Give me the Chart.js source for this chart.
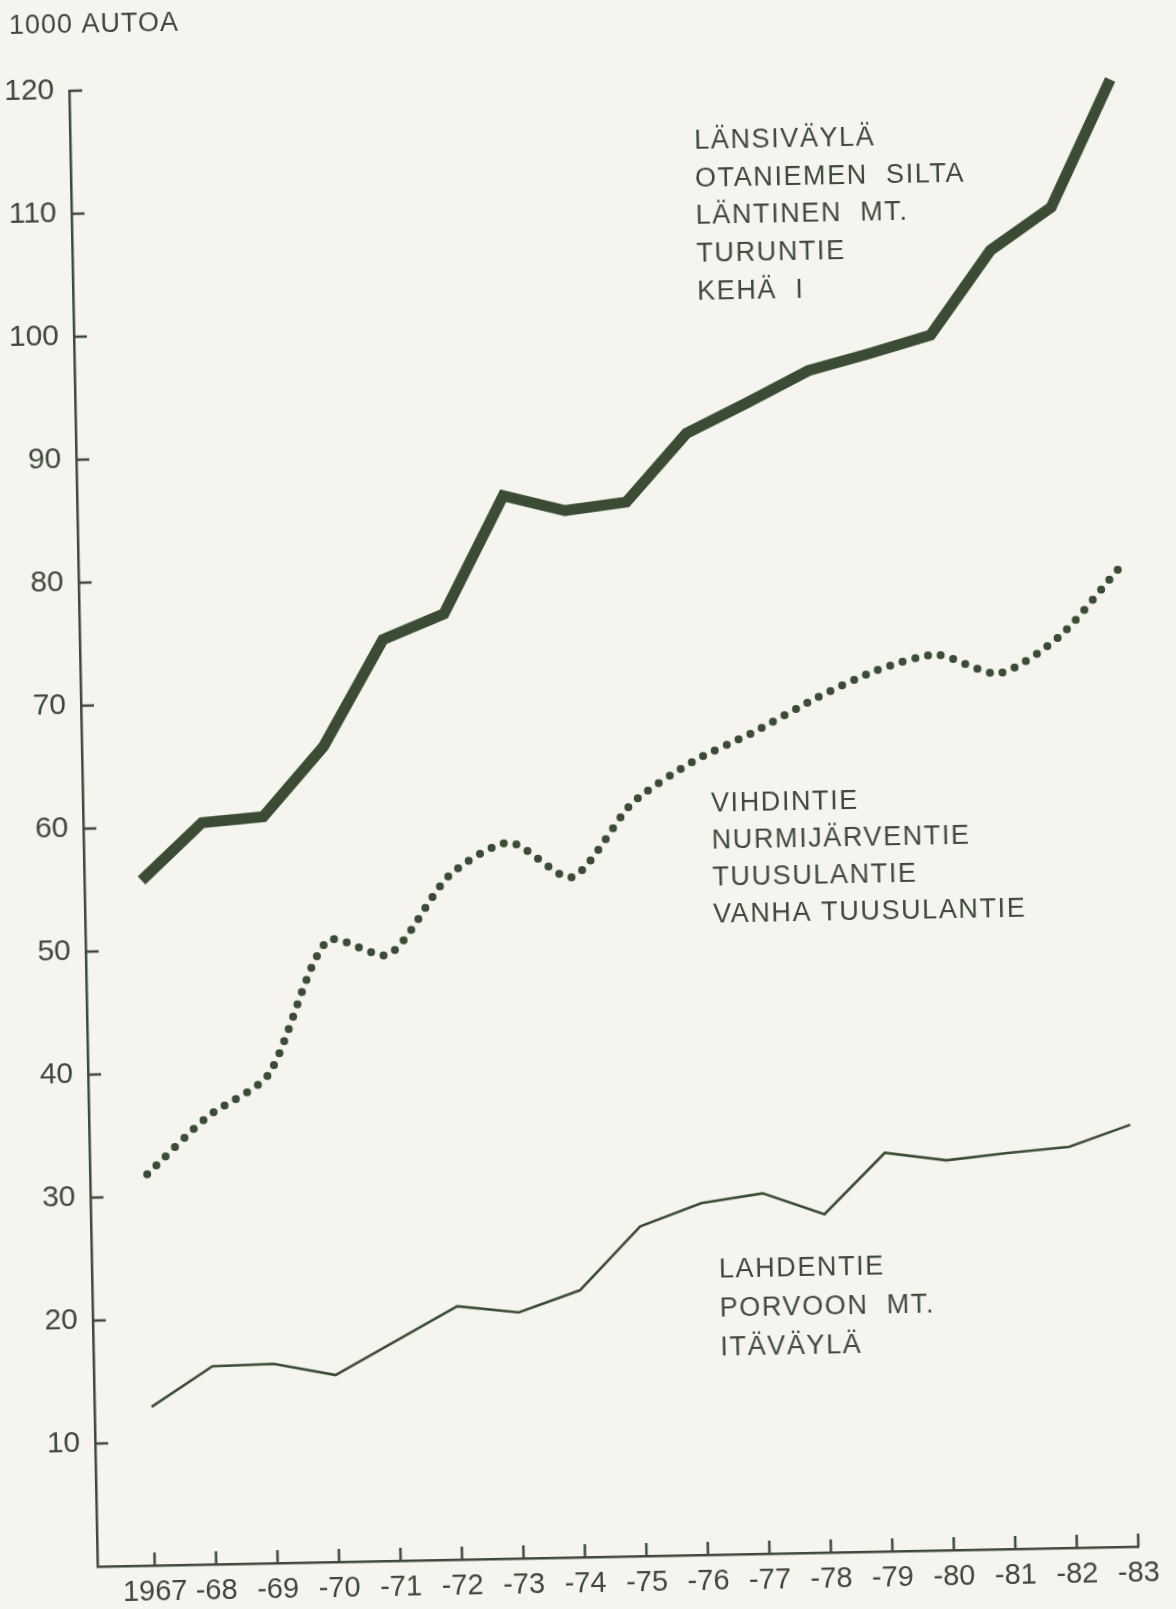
<!DOCTYPE html>
<html>
<head>
<meta charset="utf-8">
<script src="https://cdn.jsdelivr.net/npm/chart.js@4.4.1/dist/chart.umd.min.js"></script>
<style>
  html, body { margin: 0; padding: 0; width: 1176px; height: 1609px; overflow: hidden; background: #f5f4ee; }
  #wrap { position: absolute; left: 0; top: 0; width: 1176px; height: 1609px;
          transform: rotate(-1.1deg); transform-origin: 588px 804.5px; }
  canvas { display: block; }
</style>
</head>
<body>
<div id="wrap"><canvas id="c" width="1176" height="1609"></canvas></div>
<script>
// ---- data (thousand vehicles per day) ----
const years = [1967, 1968, 1969, 1970, 1971, 1972, 1973, 1974, 1975, 1976, 1977, 1978, 1979, 1980, 1981, 1982, 1983];
const xTickLabels = ['1967', '-68', '-69', '-70', '-71', '-72', '-73', '-74', '-75', '-76', '-77', '-78', '-79', '-80', '-81', '-82', '-83'];
const yTickValues = [10, 20, 30, 40, 50, 60, 70, 80, 90, 100, 110, 120];
const yAxisTitle = '1000 AUTOA';

// Länsiväylä, Otaniemen silta, Läntinen mt., Turuntie, Kehä I (thick line)
const westRoutes = [55.7, 60.3, 60.7, 66.3, 74.9, 76.9, 86.4, 85.1, 85.7, 91.2, 93.6, 96.1, 97.4, 98.8, 105.6, 109.0, 119.3];
// Vihdintie, Nurmijärventie, Tuusulantie, Vanha Tuusulantie (dotted line)
const northRoutes = [31.8, 36.4, 39.7, 50.5, 49.3, 55.6, 58.2, 55.3, 61.2, 64.5, 66.8, 69.4, 71.6, 72.8, 71.2, 74.1, 79.6];
// Lahdentie, Porvoon mt., Itäväylä (thin line)
const eastRoutes = [12.9, 16.1, 16.2, 15.2, 17.9, 20.6, 20.0, 21.7, 26.8, 28.6, 29.3, 27.5, 32.4, 31.7, 32.2, 32.6, 34.3];

const westLabel = ['LÄNSIVÄYLÄ', 'OTANIEMEN  SILTA', 'LÄNTINEN  MT.', 'TURUNTIE', 'KEHÄ  I'];
const northLabel = ['VIHDINTIE', 'NURMIJÄRVENTIE', 'TUUSULANTIE', 'VANHA TUUSULANTIE'];
const eastLabel = ['LAHDENTIE', 'PORVOON  MT.', 'ITÄVÄYLÄ'];

// ---- styling ----
const INK = '#3e493b';
const LINE = '#3a4c34';
const FONT = '"Liberation Sans", Arial, sans-serif';

const toPoints = arr => years.map((yr, i) => ({ x: yr, y: arr[i] }));

const inwardTicks = {
  id: 'inwardTicks',
  afterDatasetsDraw(chart) {
    const { ctx, chartArea: a, scales: { x, y } } = chart;
    ctx.save();
    ctx.strokeStyle = INK;
    ctx.lineWidth = 2.5;
    ctx.beginPath();
    yTickValues.forEach(v => {
      const py = y.getPixelForValue(v);
      ctx.moveTo(a.left, py); ctx.lineTo(a.left + 13, py);
    });
    years.forEach(v => {
      const px = x.getPixelForValue(v);
      ctx.moveTo(px, a.bottom); ctx.lineTo(px, a.bottom - 13);
    });
    ctx.stroke();
    ctx.restore();
  }
};

const textLabels = {
  id: 'textLabels',
  afterDraw(chart) {
    const ctx = chart.ctx;
    ctx.save();
    ctx.fillStyle = INK;
    ctx.textAlign = 'left';
    ctx.textBaseline = 'alphabetic';
    // axis unit title
    ctx.font = '27px ' + FONT;
    ctx.letterSpacing = '1px';
    ctx.fillText(yAxisTitle, 24, 23);
    // series labels
    ctx.font = '27px ' + FONT;
    ctx.letterSpacing = '1.6px';
    const blocks = [
      { lines: westLabel, x: 707, y: 141, step: 37.8 },
      { lines: northLabel, x: 711, y: 804, step: 37.2 },
      { lines: eastLabel, x: 710, y: 1270.4, step: 39 }
    ];
    blocks.forEach(b => b.lines.forEach((t, i) => ctx.fillText(t, b.x, b.y + i * b.step + 9.7)));
    ctx.restore();
  }
};

new Chart(document.getElementById('c'), {
  type: 'line',
  data: {
    datasets: [
      { data: toPoints(westRoutes), borderColor: LINE, borderWidth: 11, pointRadius: 0,
        tension: 0, borderJoinStyle: 'miter', borderCapStyle: 'butt', clip: false, fill: false },
      { data: toPoints(northRoutes), borderColor: LINE, borderWidth: 8, pointRadius: 0,
        tension: 0.25, borderDash: [0, 13], borderCapStyle: 'round', clip: false, fill: false },
      { data: toPoints(eastRoutes), borderColor: LINE, borderWidth: 2.6, pointRadius: 0,
        tension: 0, borderJoinStyle: 'miter', clip: false, fill: false }
    ]
  },
  options: {
    responsive: false,
    animation: false,
    devicePixelRatio: 1,
    events: [],
    layout: { padding: { left: 0, right: 52, top: 81, bottom: 0 } },
    plugins: { legend: { display: false }, tooltip: { enabled: false }, title: { display: false } },
    scales: {
      x: {
        type: 'linear', min: 1966.07, max: 1983,
        afterBuildTicks: s => { s.ticks = years.map(v => ({ value: v })); },
        afterFit: s => { s.height = 52; },
        ticks: { autoSkip: false, maxRotation: 0, minRotation: 0, padding: 10, color: INK,
                 font: { family: FONT, size: 29 },
                 callback: (v, i) => xTickLabels[i] },
        grid: { drawOnChartArea: false, drawTicks: false },
        border: { display: true, color: INK, width: 2.5 }
      },
      y: {
        min: 0, max: 120,
        afterBuildTicks: s => { s.ticks = yTickValues.map(v => ({ value: v })); },
        afterFit: s => { s.width = 83; },
        ticks: { padding: 15, color: INK, font: { family: FONT, size: 30 },
                 callback: v => String(v) },
        grid: { drawOnChartArea: false, drawTicks: false },
        border: { display: true, color: INK, width: 2.5 }
      }
    }
  },
  plugins: [inwardTicks, textLabels]
});
</script>
</body>
</html>
